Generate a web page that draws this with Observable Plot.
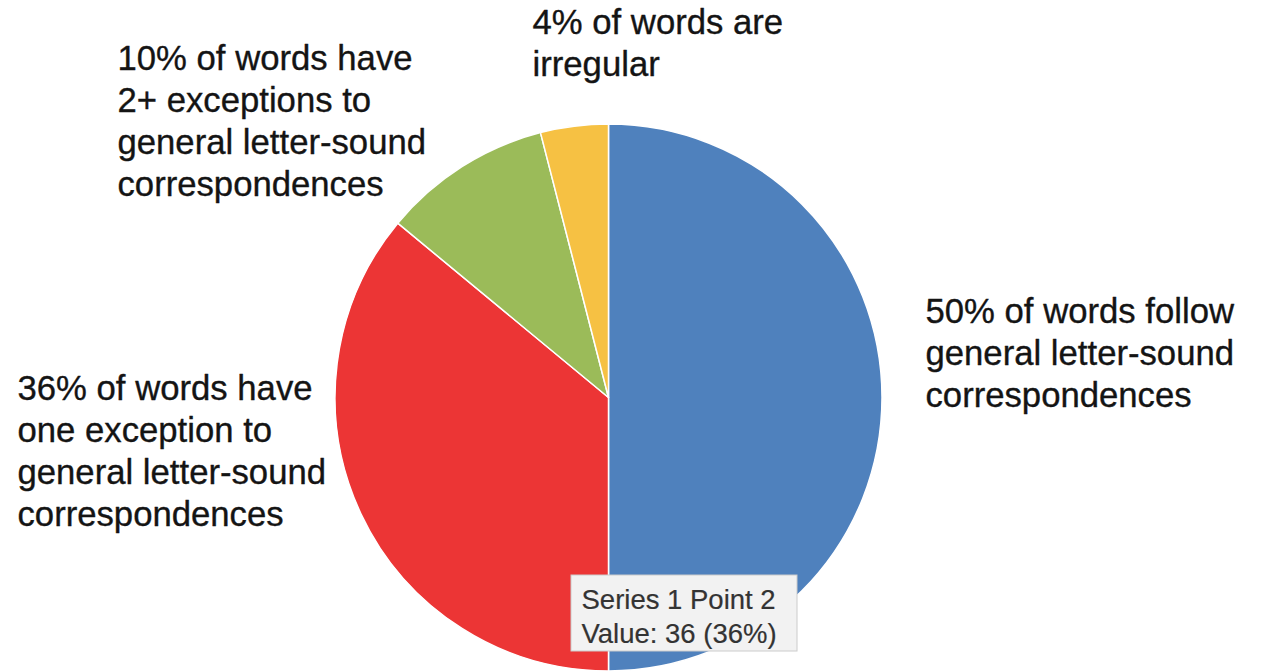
<!DOCTYPE html>
<html>
<head>
<meta charset="utf-8">
<script src="https://cdn.jsdelivr.net/npm/d3@7"></script>
<script src="https://cdn.jsdelivr.net/npm/@observablehq/plot@0.6"></script>
<style>
  html, body { margin: 0; padding: 0; background: #fff; }
  #chart { width: 1263px; height: 671px; overflow: hidden; }
</style>
</head>
<body>
<div id="chart"></div>
<script>
// ---- Data ----
const categories = [
  "Follow general letter-sound correspondences",
  "One exception",
  "2+ exceptions",
  "Irregular"
];
const values = [50, 36, 10, 4];
const sliceColors = ["#4f81bd", "#ec3535", "#9bbb59", "#f6c143"];
const labelTexts = [
  "50% of words follow\ngeneral letter-sound\ncorrespondences",
  "36% of words have\none exception to\ngeneral letter-sound\ncorrespondences",
  "10% of words have\n2+ exceptions to\ngeneral letter-sound\ncorrespondences",
  "4% of words are\nirregular"
];
const tooltipLines = ["Series 1 Point 2", "Value: 36 (36%)"];

// ---- Layout ----
const W = 1263, H = 671;
const pieCenter = {x: 608.5, y: 397.5};
const pieRadius = 273.5;
const labelFontSize = 34.7;
const labelAnchors = [[925, 317], [17, 394], [117, 64], [532, 28]]; // [left x, first baseline]
const tooltipBox = {x1: 571, x2: 797, y1: 575, y2: 651};
const tooltipFontSize = 27.5;
const tooltipAnchor = [581, 604];

const rows = categories.map((c, i) => ({category: c, value: values[i], color: sliceColors[i]}));
const arcs = d3.pie().sort(null).value(d => d.value)(rows);

const labelRows = labelTexts.map((t, i) => ({
  text: t,
  x: labelAnchors[i][0],
  y: labelAnchors[i][1] - 0.71 * labelFontSize
}));

function pieMark(index, scales) {
  const {x, y} = scales;
  const cx = x(pieCenter.x), cy = y(pieCenter.y);
  const r = x(pieCenter.x + pieRadius) - cx;
  const arc = d3.arc().innerRadius(0).outerRadius(r);
  const g = d3.create("svg:g").attr("transform", `translate(${cx},${cy})`);
  g.selectAll("path")
    .data(arcs)
    .join("path")
    .attr("d", arc)
    .attr("fill", d => d.data.color)
    .attr("stroke", "#ffffff")
    .attr("stroke-width", 1.5)
    .attr("stroke-linejoin", "round");
  return g.node();
}

const chart = Plot.plot({
  width: W,
  height: H,
  margin: 0,
  x: {domain: [0, W], range: [0, W], axis: null},
  y: {domain: [0, H], range: [0, H], axis: null},
  style: {fontFamily: "'Liberation Sans', Arial, Helvetica, sans-serif", background: "#fff"},
  marks: [
    pieMark,
    Plot.text(labelRows, {
      x: "x", y: "y", text: "text",
      textAnchor: "start", lineAnchor: "top",
      lineHeight: 42 / 34.7,
      fontSize: labelFontSize, fill: "#141414",
      stroke: "#141414", strokeWidth: 0.35
    }),
    Plot.rect([tooltipBox], {
      x1: "x1", x2: "x2", y1: "y1", y2: "y2",
      fill: "#f2f2f2", stroke: "#cccccc", strokeWidth: 1
    }),
    Plot.text([{text: tooltipLines.join("\n"), x: tooltipAnchor[0], y: tooltipAnchor[1] - 0.71 * tooltipFontSize}], {
      x: "x", y: "y", text: "text",
      textAnchor: "start", lineAnchor: "top",
      lineHeight: 34 / 27.5,
      fontSize: tooltipFontSize, fill: "#333333",
      stroke: "#333333", strokeWidth: 0.2
    })
  ]
});

document.getElementById("chart").appendChild(chart);
</script>
</body>
</html>
